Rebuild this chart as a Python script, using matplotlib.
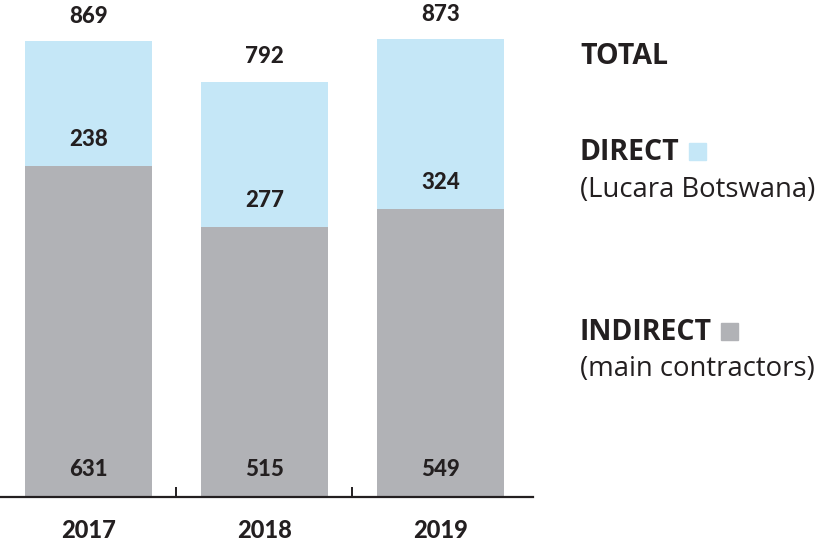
import numpy as np
import matplotlib.pyplot as plt
from matplotlib.patches import Rectangle


#Data
#-----------------------------------------------------------------------------------
years = ["2017", "2018", "2019"]
indirect = [631, 515, 549]
direct = [238, 277, 324]
totals = [869, 792, 873]

light_blue = "#C5E7F7"
grey = "#B1B2B6"
dark = "#231F20"
#-----------------------------------------------------------------------------------


#Plot
#-----------------------------------------------------------------------------------
W, H = 817, 544
fig = plt.figure(figsize=(W / 100, H / 100), dpi=100)
ax = fig.add_axes([0, 47 / H, 533 / W, 497 / H])

x = np.arange(len(years))
ax.bar(x, indirect, width=0.72, color=grey)
ax.bar(x, direct, bottom=indirect, width=0.72, color=light_blue)

ax.set_xlim(-0.503, 2.526)
ax.set_ylim(0, 948)

for s in ["top", "right", "left"]:
    ax.spines[s].set_visible(False)
ax.spines["bottom"].set_linewidth(1.6)
ax.spines["bottom"].set_color(dark)
ax.set_yticks([])
ax.set_xticks(x)
ax.set_xticklabels(years, fontfamily="Lato", fontweight="black", fontsize=17, color=dark)
ax.tick_params(axis="x", which="major", length=0, pad=16)
ax.set_xticks([0.5, 1.5], minor=True)
ax.tick_params(axis="x", which="minor", direction="in", length=7, width=1.4, color=dark)

num_font = dict(fontfamily="Lato", fontweight="black", fontsize=16, color=dark,
                ha="center", va="center", textcoords="offset points")
for i in range(len(years)):
    ax.annotate(str(totals[i]), (x[i], totals[i]), xytext=(0, 18), **num_font)
    ax.annotate(str(direct[i]), (x[i], indirect[i]), xytext=(0, 19), **num_font)
    ax.annotate(str(indirect[i]), (x[i], 0), xytext=(0, 20), **num_font)

# legend texts on the right
lx = 580 / W
bold = dict(fontfamily="Open Sans", fontweight="bold", fontsize=20.5, color=dark, va="center")
reg = dict(fontfamily="Open Sans", fontsize=19.8, color=dark, va="center")
fig.text(lx, 1 - 56 / H, "TOTAL", **bold)
t_dir = fig.text(lx, 1 - 153 / H, "DIRECT", **bold)
fig.text(lx, 1 - 190 / H, "(Lucara Botswana)", **reg)
t_ind = fig.text(lx, 1 - 333 / H, "INDIRECT", **bold)
fig.text(lx, 1 - 369 / H, "(main contractors)", **reg)

# small colour squares right after the bold words
renderer = fig.canvas.get_renderer()
for t, c, ytop in [(t_dir, light_blue, 143), (t_ind, grey, 323)]:
    bb = t.get_window_extent(renderer)
    fig.patches.append(Rectangle(((bb.x1 + 9) / W, 1 - (ytop + 17) / H), 17 / W, 17 / H,
                                 color=c, transform=fig.transFigure, figure=fig))

fig.savefig("out.png", dpi=100)
#-----------------------------------------------------------------------------------
